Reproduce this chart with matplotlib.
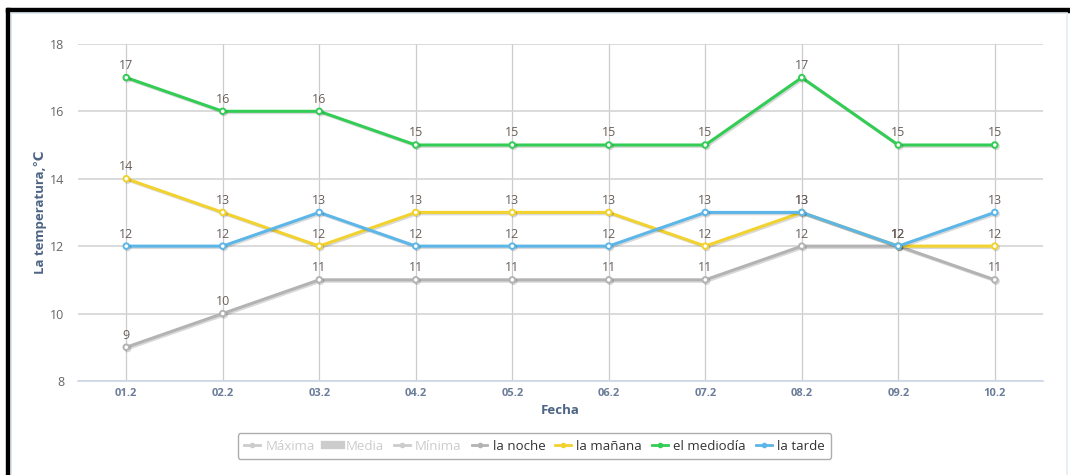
import matplotlib.pyplot as plt
import matplotlib.patheffects as pe
from matplotlib.lines import Line2D
from matplotlib.patches import Rectangle

plt.rcParams['font.family'] = ['Open Sans', 'DejaVu Sans']

# data
fechas = ['01.2', '02.2', '03.2', '04.2', '05.2', '06.2', '07.2', '08.2', '09.2', '10.2']
noche = [9, 10, 11, 11, 11, 11, 11, 12, 12, 11]
manana = [14, 13, 12, 13, 13, 13, 12, 13, 12, 12]
mediodia = [17, 16, 16, 15, 15, 15, 15, 17, 15, 15]
tarde = [12, 12, 13, 12, 12, 12, 13, 13, 12, 13]

series = [
    ('la noche', noche, '#b3b3b3'),
    ('la mañana', manana, '#f2d22e'),
    ('el mediodía', mediodia, '#33cc55'),
    ('la tarde', tarde, '#5cb6e8'),
]

fig = plt.figure(figsize=(10.7, 4.75), dpi=100)
ax = fig.add_axes([0.0729, 0.198, 0.9019, 0.7096])

# marco negro de la captura y panel
fig.patches.append(Rectangle((6 / 1070, 0), 4 / 1070, 1 - 8 / 475, transform=fig.transFigure,
                             color='black', zorder=0))
fig.patches.append(Rectangle((6 / 1070, 1 - 12 / 475), 1 - 6 / 1070, 4 / 475, transform=fig.transFigure,
                             color='black', zorder=0))
fig.patches.append(Rectangle((11 / 1070, -0.01), 1056 / 1070, 1 - 13 / 475 + 0.01, transform=fig.transFigure,
                             facecolor='none', edgecolor='#e3edf4', lw=1.2, zorder=0))

x = list(range(len(fechas)))
for name, vals, col in series:
    ax.plot(x, vals, color=col, lw=2.2, marker='o', ms=4, mfc='white', mec=col, mew=1.4,
            zorder=3, path_effects=[pe.SimpleLineShadow(offset=(1, -1), alpha=0.15), pe.Normal()])
    for xi, v in zip(x, vals):
        ax.annotate(str(v), (xi, v), xytext=(0, 4), textcoords='offset points',
                    ha='center', va='bottom', fontsize=9, color='#6a5f5a', zorder=4)

ax.set_xlim(-0.5, len(fechas) - 0.5)
ax.set_ylim(8, 18)
ax.set_yticks([8, 10, 12, 14, 16, 18])
ax.set_xticks(x)
ax.set_xticklabels(fechas, fontsize=8, fontweight='bold', color='#6b7d99')
ax.tick_params(axis='y', labelsize=9, labelcolor='#666666', length=0, pad=10)
ax.tick_params(axis='x', length=0, pad=5)

ax.grid(axis='y', color='#d4d4d4', lw=1.2)
ax.grid(axis='x', color='#cccccc', lw=0.9)
ax.set_axisbelow(True)
for s in ['top', 'right', 'left']:
    ax.spines[s].set_visible(False)
ax.spines['bottom'].set_color('#ccd6eb')
ax.spines['bottom'].set_linewidth(1.2)

ax.set_ylabel('La temperatura,℃', fontsize=9.5, fontweight='bold', color='#4d6484', labelpad=2)
ax.set_xlabel('Fecha', fontsize=9.5, fontweight='bold', color='#4d6484', labelpad=4)

# leyenda
off = '#cccccc'
handles = [
    Line2D([], [], color=off, lw=2, marker='o', ms=3),
    Line2D([], [], color=off, lw=6),
    Line2D([], [], color=off, lw=2, marker='o', ms=3),
]
labels = ['Máxima', 'Media', 'Mínima']
for name, vals, col in series:
    handles.append(Line2D([], [], color=col, lw=2, marker='o', ms=3))
    labels.append(name)
leg = fig.legend(handles, labels, loc='center', bbox_to_anchor=(0.4995, 0.061), ncol=7,
                 fontsize=9.5, frameon=True, fancybox=True, handlelength=1.2, handletextpad=0.4,
                 columnspacing=0.75, borderpad=0.5)
leg.get_frame().set_edgecolor('#999999')
leg.get_frame().set_linewidth(1)
for i, t in enumerate(leg.get_texts()):
    t.set_color(off if i < 3 else '#333333')

plt.savefig('out.png', dpi=100)
